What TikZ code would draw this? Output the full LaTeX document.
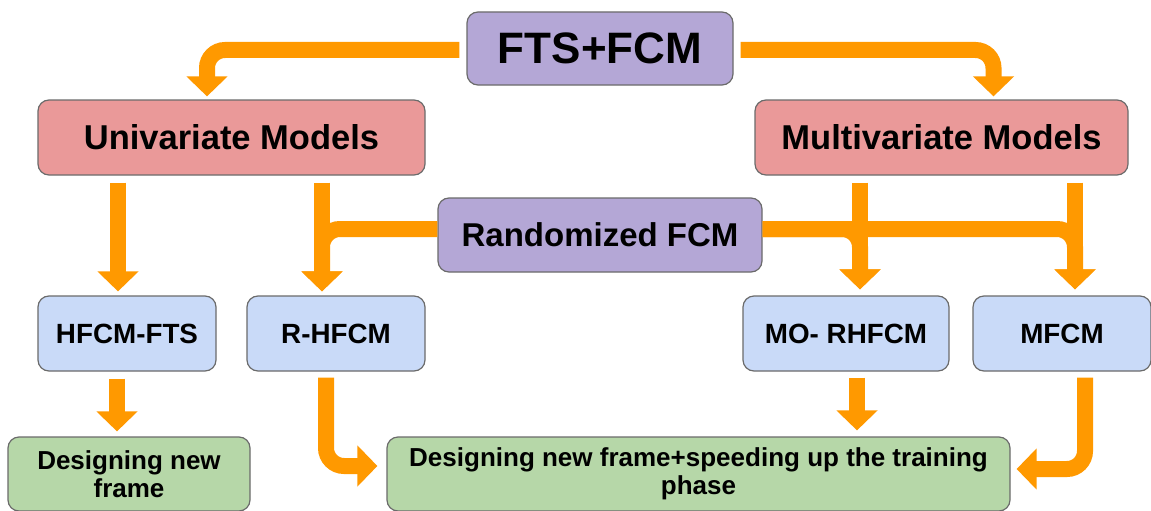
\documentclass[tikz,border=0pt]{standalone}
\usepackage{fontspec}
\setmainfont{Liberation Sans}
\usetikzlibrary{arrows.meta}
\definecolor{arrowc}{HTML}{FF9900}
\definecolor{purp}{HTML}{B4A7D6}
\definecolor{redb}{HTML}{EA9999}
\definecolor{blueb}{HTML}{C9DAF8}
\definecolor{greenb}{HTML}{B6D7A8}
\definecolor{bord}{HTML}{6B6B6B}
\begin{document}
\begin{tikzpicture}[x=1pt,y=-1pt,
  box/.style={draw=bord, line width=1.2pt, rounded corners=11pt, inner sep=0pt, align=center},
  topbox/.style={box, fill=purp, font=\bfseries\fontsize{44}{50}\selectfont},
  midbox/.style={box, font=\bfseries\fontsize{33}{38}\selectfont},
  modbox/.style={box, fill=redb, minimum height=75pt, font=\bfseries\fontsize{34.5}{38}\selectfont},
  smallbox/.style={box, fill=blueb, minimum height=75pt, font=\bfseries\fontsize{27.8}{30}\selectfont},
  greenbox/.style={box, fill=greenb, minimum height=74pt, font=\bfseries\fontsize{26}{28}\selectfont},
  arr/.style={draw=arrowc, line width=16pt, rounded corners=18pt, -{Triangle[width=40pt,length=20pt]}}
]
\useasboundingbox (0,0) rectangle (1151,511);
\fill[white] (0,0) rectangle (1151,511);

\node[topbox, minimum width=266pt, minimum height=73pt] (fts) at (600,48.5) {FTS+FCM};
\node[modbox, minimum width=387pt] (uni) at (231.5,137.5) {Univariate Models};
\node[modbox, minimum width=373pt] (multi) at (941.5,137.5) {Multivariate Models};
\node[midbox, fill=purp, minimum width=324pt, minimum height=74pt] (rand) at (600,235) {Randomized FCM};
\node[smallbox, minimum width=178pt] (hf) at (127,333.5) {HFCM-FTS};
\node[smallbox, minimum width=178pt] (rh) at (336,333.5) {R-HFCM};
\node[smallbox, minimum width=206pt] (mo) at (846,333.5) {MO- RHFCM};
\node[smallbox, minimum width=178pt] (mf) at (1062,333.5) {MFCM};
\node[greenbox, minimum width=242pt] (dn) at (129,474) {Designing new\\frame};
\node[greenbox, minimum width=623pt] (big) at (698.5,474) {Designing new frame+speeding up the training\\phase};

% top arrows
\draw[arr] ([xshift=-7pt,yshift=-1.5pt]fts.west) -| ([xshift=-24.5pt,yshift=3pt]uni.north);
\draw[arr] ([xshift=7pt,yshift=-1.5pt]fts.east) -| ([xshift=52pt,yshift=3pt]multi.north);
% univariate
\draw[arr] ([xshift=-9pt,yshift=-7pt]hf.north |- uni.south) -- ([xshift=-9pt,yshift=4pt]hf.north);
\draw[arr] ([xshift=-14pt,yshift=-7pt]rh.north |- uni.south) -- ([xshift=-14pt,yshift=4pt]rh.north);
% multivariate
\draw[arr] ([xshift=14pt,yshift=-7pt]mo.north |- multi.south) -- ([xshift=14pt,yshift=6pt]mo.north);
\draw[arr] ([xshift=13pt,yshift=-7pt]mf.north |- multi.south) -- ([xshift=13pt,yshift=6pt]mf.north);
% randomized
\draw[arr] ([yshift=6pt]rand.west) -| ([xshift=-14pt,yshift=4pt]rh.north);
\draw[arr] ([yshift=6pt]rand.east) -| ([xshift=14pt,yshift=6pt]mo.north);
\draw[arr] ([yshift=6pt]rand.east) -| ([xshift=13pt,yshift=6pt]mf.north);
% bottom arrows
\draw[arr] ([xshift=-10pt,yshift=-7pt]hf.south) -- ([xshift=-10pt,yshift=5pt]hf.south |- dn.north);
\draw[arr] ([xshift=-10pt,yshift=-6pt]rh.south) |- ([xshift=-9pt,yshift=8pt]big.west);
\draw[arr] ([xshift=11pt,yshift=-6pt]mo.south) -- ([xshift=11pt,yshift=6pt]mo.south |- big.north);
\draw[arr] ([xshift=23pt,yshift=-6pt]mf.south) |- ([xshift=6pt,yshift=5pt]big.east);
\end{tikzpicture}
\end{document}
